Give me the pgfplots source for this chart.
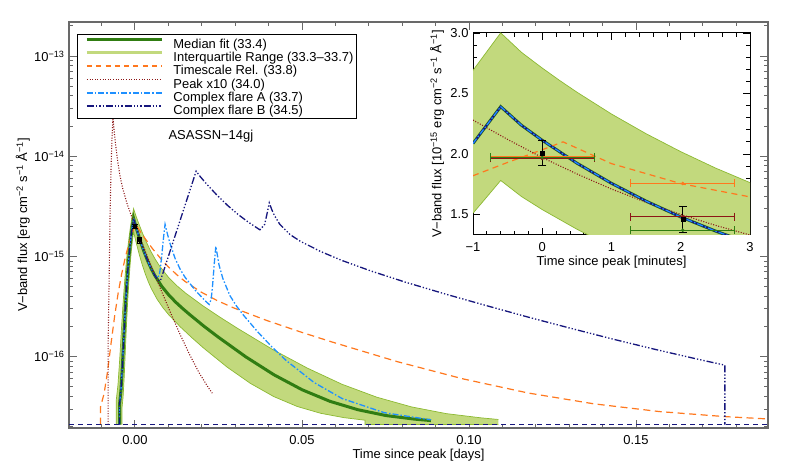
\documentclass[border=0pt]{standalone}
\usepackage{fontspec}
\setmainfont{Liberation Sans}
\usepackage{pgfplots}
\pgfplotsset{compat=1.18}
\usepgfplotslibrary{fillbetween}
\definecolor{medgreen}{RGB}{48,125,18}
\definecolor{bandfill}{RGB}{194,217,125}
\definecolor{bandedge}{RGB}{140,185,50}
\definecolor{orng}{RGB}{255,120,30}
\definecolor{dred}{RGB}{140,22,22}
\definecolor{lblue}{RGB}{30,144,255}
\definecolor{navyb}{RGB}{22,22,125}
\definecolor{framegray}{RGB}{105,105,105}
\begin{document}
\fontsize{13}{13}\selectfont
\begin{tikzpicture}
\begin{axis}[
  scale only axis, width=699bp, height=406bp,
  xmin=-0.01976, xmax=0.18952,
  ymode=log, ymin=1.94e-17, ymax=2.19e-13,
  xtick={0,0.05,0.1,0.15}, xticklabels={0.00,0.05,0.10,0.15},
  minor xtick={-0.01,0.01,0.02,0.03,0.04,0.06,0.07,0.08,0.09,0.11,0.12,0.13,0.14,0.16,0.17,0.18},
  ytick={1e-16,1e-15,1e-14,1e-13},
  yticklabels={10\textsuperscript{−16},10\textsuperscript{−15},10\textsuperscript{−14},10\textsuperscript{−13}},
  minor ytick={2e-17,3e-17,4e-17,5e-17,6e-17,7e-17,8e-17,9e-17,2e-16,3e-16,4e-16,5e-16,6e-16,7e-16,8e-16,9e-16,2e-15,3e-15,4e-15,5e-15,6e-15,7e-15,8e-15,9e-15,2e-14,3e-14,4e-14,5e-14,6e-14,7e-14,8e-14,9e-14,2e-13},
  tick align=inside, tick pos=both,
  major tick length=8bp, minor tick length=4.5bp,
  tick style={framegray, line width=1bp},
  axis line style={framegray, line width=1.3bp},
  xticklabel style={yshift=-3bp},
  xlabel={Time since peak [days]},
  ylabel={V−band flux [erg cm\textsuperscript{−2} s\textsuperscript{−1} Å\textsuperscript{−1}]},
  xlabel style={at={(axis description cs:0.5,-0.0665)}, anchor=center},
  ylabel style={at={(axis description cs:-0.066,0.5)}, anchor=center},
  legend style={at={(axis description cs:0.01144,0.9704)}, anchor=north west,
    draw=black, line width=0.9bp, fill=white, inner xsep=2bp, inner ysep=2bp,
    column sep=9bp, row sep=0bp,
    nodes={inner xsep=1bp, inner ysep=0.5bp, text height=11.3bp, text depth=1bp},
    cells={anchor=west}},
  legend image code/.code={\path (0bp,0bp); \draw[#1] (6bp,3.5bp) -- (81bp,3.5bp);},
]
% interquartile band
\addplot[name path=up, bandedge, line width=0.7bp, forget plot] coordinates {
(-0.00562,0.021e-15) (-0.00562,0.0365e-15) (-0.0051,0.0523e-15) (-0.00458,0.0937e-15)
(-0.00406,0.1876e-15) (-0.00354,0.354e-15) (-0.00302,0.606e-15) (-0.0025,0.946e-15)
(-0.00198,1.372e-15) (-0.00146,1.872e-15) (-0.00094,2.424e-15) (-0.00042,3.00e-15)
(0.0001,2.649e-15) (0.00088,2.240e-15) (0.00218,1.729e-15) (0.00348,1.372e-15)
(0.00478,1.119e-15) (0.00608,0.936e-15) (0.00738,0.802e-15) (0.00998,0.622e-15)
(0.01258,0.509e-15) (0.01518,0.430e-15) (0.02038,0.321e-15) (0.02558,0.246e-15)
(0.03078,0.191e-15) (0.04118,0.118e-15) (0.05158,0.0769e-15) (0.06198,0.0530e-15)
(0.07238,0.0394e-15) (0.08278,0.0315e-15) (0.09318,0.0270e-15) (0.10358,0.0245e-15)
(0.10878,0.0236e-15)};
\addplot[name path=lo, bandedge, line width=0.7bp, forget plot] coordinates {
(-0.00392,0.021e-15) (-0.00392,0.0302e-15) (-0.00357,0.0395e-15) (-0.00322,0.0639e-15)
(-0.00287,0.1194e-15) (-0.00252,0.2176e-15) (-0.00217,0.3663e-15) (-0.00182,0.5675e-15)
(-0.00147,0.8192e-15) (-0.00112,1.114e-15) (-0.00077,1.440e-15) (-0.00042,1.781e-15)
(-0.00007,1.573e-15) (0.00046,1.331e-15) (0.00133,1.030e-15) (0.00221,0.819e-15)
(0.00308,0.670e-15) (0.00396,0.562e-15) (0.00483,0.482e-15) (0.00658,0.376e-15)
(0.00833,0.309e-15) (0.01008,0.262e-15) (0.01358,0.198e-15) (0.01708,0.154e-15)
(0.02058,0.1215e-15) (0.02758,0.0786e-15) (0.03458,0.0540e-15) (0.04158,0.0399e-15)
(0.04858,0.0318e-15) (0.05558,0.0272e-15) (0.06258,0.0246e-15) (0.06888,0.0232e-15)
(0.06888,0.021e-15) (0.10878,0.021e-15)};
\addplot[fill=bandfill, draw=none, forget plot] fill between[of=up and lo];
% median fit
\addplot[medgreen, line width=3bp, forget plot] coordinates {
(-0.00462,0.021e-15) (-0.00462,0.0335e-15) (-0.0042,0.0462e-15) (-0.00378,0.0796e-15)
(-0.00336,0.155e-15) (-0.00294,0.289e-15) (-0.00252,0.492e-15) (-0.0021,0.766e-15)
(-0.00168,1.109e-15) (-0.00126,1.511e-15) (-0.00084,1.956e-15) (-0.00042,2.40e-15)
(0.0,2.137e-15) (0.00063,1.808e-15) (0.00168,1.397e-15) (0.00273,1.109e-15)
(0.00378,0.905e-15) (0.00483,0.758e-15) (0.00588,0.650e-15) (0.00798,0.505e-15)
(0.01008,0.414e-15) (0.01218,0.350e-15) (0.01428,0.302e-15) (0.01638,0.263e-15)
(0.02058,0.202e-15) (0.02478,0.158e-15) (0.03318,0.0995e-15) (0.04158,0.066e-15)
(0.04998,0.0468e-15) (0.05838,0.0358e-15) (0.06678,0.0295e-15) (0.07518,0.0258e-15)
(0.08358,0.0238e-15) (0.0886,0.0230e-15)};
% timescale relation
\addplot[orng, line width=1.2bp, dash pattern=on 7bp off 4.5bp, forget plot] coordinates {
(-0.0103,0.021e-15) (-0.0103,0.0318e-15) (-0.00925,0.0428e-15) (-0.0082,0.0718e-15)
(-0.00715,0.1373e-15) (-0.0061,0.2533e-15) (-0.00505,0.429e-15) (-0.004,0.667e-15)
(-0.00295,0.964e-15) (-0.0019,1.313e-15) (-0.00085,1.698e-15) (0.0002,2.101e-15)
(0.00118,1.855e-15) (0.00265,1.570e-15) (0.0051,1.213e-15) (0.00755,0.964e-15)
(0.01,0.787e-15) (0.01245,0.660e-15) (0.0149,0.566e-15) (0.0198,0.441e-15)
(0.0247,0.3615e-15) (0.0296,0.306e-15) (0.0394,0.230e-15) (0.0492,0.178e-15)
(0.059,0.140e-15) (0.0786,0.089e-15) (0.0982,0.060e-15) (0.1178,0.0433e-15)
(0.1374,0.0338e-15) (0.157,0.0283e-15) (0.1766,0.0252e-15) (0.1903,0.0238e-15)};
% peak x10
\addplot[dred, line width=1.1bp, dash pattern=on 1bp off 1.6bp, forget plot] coordinates {
(-0.00803,0.021e-15) (-0.00803,0.146e-15) (-0.00774,0.607e-15) (-0.00746,2.70e-15)
(-0.00717,7.47e-15) (-0.00689,14.92e-15) (-0.00674,19.37e-15) (-0.0066,24.0e-15)
(-0.00624,17.89e-15) (-0.00589,13.78e-15) (-0.00517,8.86e-15) (-0.00446,6.31e-15)
(-0.00374,4.86e-15) (-0.00231,3.31e-15) (-0.00088,2.44e-15) (0.00055,1.835e-15)
(0.00198,1.391e-15) (0.00484,0.806e-15) (0.0077,0.471e-15) (0.01056,0.279e-15)
(0.01342,0.169e-15) (0.01628,0.106e-15) (0.01914,0.0695e-15) (0.022,0.0488e-15)
(0.02314,0.0432e-15)};
% complex flare A
\addplot[lblue, line width=1.3bp, dash pattern=on 6bp off 2bp on 1.5bp off 2bp, forget plot] coordinates {
(-0.00462,0.021e-15) (-0.00462,0.0335e-15) (-0.0042,0.0462e-15) (-0.00378,0.0796e-15)
(-0.00336,0.155e-15) (-0.00294,0.289e-15) (-0.00252,0.492e-15) (-0.0021,0.766e-15)
(-0.00168,1.109e-15) (-0.00126,1.511e-15) (-0.00084,1.956e-15) (-0.00042,2.40e-15)
(0.0,2.137e-15) (0.00063,1.808e-15) (0.00168,1.397e-15) (0.00273,1.109e-15)
(0.00378,0.905e-15) (0.00483,0.758e-15) (0.00588,0.650e-15)
(0.0065,0.61e-15) (0.00725,0.644e-15) (0.0075,0.727e-15) (0.00775,0.85e-15)
(0.008,1.011e-15) (0.0085,1.49e-15) (0.0088,1.84e-15) (0.009,2.09e-15)
(0.00975,1.655e-15) (0.0105,1.346e-15) (0.012,0.956e-15) (0.0135,0.748e-15)
(0.015,0.619e-15) (0.018,0.461e-15) (0.021,0.361e-15) (0.0222,0.332e-15)
(0.0228,0.373e-15) (0.0232,0.50e-15) (0.0236,0.74e-15) (0.0238,0.90e-15)
(0.0242,1.26e-15) (0.02473,0.999e-15) (0.02515,0.824e-15) (0.0263,0.603e-15)
(0.0284,0.4075e-15) (0.0305,0.316e-15) (0.0326,0.2565e-15) (0.0368,0.1758e-15)
(0.041,0.125e-15) (0.0452,0.0919e-15) (0.0536,0.0552e-15) (0.062,0.0382e-15)
(0.0746,0.0276e-15) (0.0886,0.0234e-15)};
% complex flare B
\addplot[navyb, line width=1.3bp, dash pattern=on 7bp off 2bp on 1.3bp off 2bp on 1.3bp off 2bp on 1.3bp off 2bp, forget plot] coordinates {
(-0.00462,0.021e-15) (-0.00462,0.0335e-15) (-0.0042,0.0462e-15) (-0.00378,0.0796e-15)
(-0.00336,0.155e-15) (-0.00294,0.289e-15) (-0.00252,0.492e-15) (-0.0021,0.766e-15)
(-0.00168,1.109e-15) (-0.00126,1.511e-15) (-0.00084,1.956e-15) (-0.00042,2.40e-15)
(0.0,2.137e-15) (0.00063,1.808e-15) (0.00168,1.397e-15) (0.00273,1.109e-15)
(0.00378,0.905e-15) (0.00483,0.758e-15) (0.00588,0.650e-15)
(0.0068,0.585e-15) (0.0076,0.57e-15) (0.008,0.627e-15) (0.0085,0.705e-15)
(0.01,1.003e-15) (0.0115,1.43e-15) (0.013,2.03e-15) (0.0145,2.90e-15)
(0.016,4.12e-15) (0.0172,5.47e-15) (0.0183,7.1e-15) (0.01955,6.26e-15)
(0.02143,5.29e-15) (0.02455,4.09e-15) (0.02768,3.24e-15) (0.0308,2.637e-15)
(0.03393,2.20e-15) (0.03705,1.877e-15) (0.0374,1.846e-15) (0.0388,2.085e-15)
(0.0395,2.64e-15) (0.0402,3.43e-15) (0.04098,2.918e-15) (0.04175,2.563e-15)
(0.0433,2.107e-15) (0.0464,1.655e-15) (0.0495,1.418e-15) (0.0557,1.116e-15)
(0.0619,0.914e-15) (0.0706,0.717e-15) (0.0808,0.556e-15) (0.0933,0.418e-15)
(0.1058,0.319e-15) (0.1183,0.245e-15) (0.1308,0.1905e-15) (0.1433,0.149e-15)
(0.1558,0.118e-15) (0.1683,0.0946e-15) (0.1766,0.0822e-15) (0.1766,0.021e-15)};
% quiescent level
\addplot[navyb, line width=1bp, dash pattern=on 5bp off 4bp, forget plot] coordinates {
(-0.01976,2.1e-17) (0.18952,2.1e-17)};
% observed points
\addplot[black, only marks, mark=*, mark size=2.2bp, forget plot,
  error bars/.cd, x dir=both, x explicit, y dir=both, y explicit,
  error bar style={line width=1bp}, error mark options={rotate=90, mark size=2.5bp, line width=1bp}] coordinates {
(0.0,2.0e-15) +- (0.00052,0.105e-15)
(0.00141,1.458e-15) +- (0.00052,0.104e-15)};
\node at (axis description cs:0.203,0.719) {ASASSN−14gj};
% legend
\addlegendimage{medgreen, line width=2.5bp}
\addlegendentry{Median fit (33.4)}
\addlegendimage{bandfill, line width=3bp}
\addlegendentry{Interquartile Range (33.3–33.7)}
\addlegendimage{orng, line width=1.6bp, dash pattern=on 5bp off 4.3bp}
\addlegendentry{Timescale Rel. (33.8)}
\addlegendimage{dred, line width=1.2bp, dash pattern=on 1bp off 1.6bp}
\addlegendentry{Peak x10 (34.0)}
\addlegendimage{lblue, line width=1.5bp, dash pattern=on 6bp off 2bp on 1.5bp off 2bp}
\addlegendentry{Complex flare A (33.7)}
\addlegendimage{navyb, line width=1.5bp, dash pattern=on 7bp off 2bp on 1.3bp off 2bp on 1.3bp off 2bp on 1.3bp off 2bp}
\addlegendentry{Complex flare B (34.5)}
\end{axis}
% inset
\begin{axis}[
  at={(404bp,193bp)}, anchor=south west,
  scale only axis, width=277bp, height=202bp,
  xmin=-1, xmax=3, ymin=1.33, ymax=3.0,
  xtick={-1,0,1,2,3}, xticklabels={−1,0,1,2,3},
  ytick={1.5,2,2.5,3}, yticklabels={1.5,2.0,2.5,3.0},
  minor x tick num=4, minor y tick num=4,
  tick align=inside, tick pos=both,
  major tick length=7bp, minor tick length=4bp,
  tick style={black, line width=0.8bp},
  axis line style={black, line width=1bp},
  axis background/.style={fill=white},
  xticklabel style={yshift=-3bp},
  xlabel={Time since peak [minutes]},
  ylabel={V−band flux [10\textsuperscript{−15} erg cm\textsuperscript{−2} s\textsuperscript{−1} Å\textsuperscript{−1}]},
  xlabel style={at={(axis description cs:0.5,-0.134)}, anchor=center},
  ylabel style={at={(axis description cs:-0.130,0.5)}, anchor=center},
]
\addplot[name path=iup, bandedge, line width=0.7bp] coordinates {
(-1,2.691) (-0.8,2.846) (-0.6,3.001) (-0.3,2.840) (0,2.710) (0.25,2.608) (0.5,2.511)
(1,2.330) (1.5,2.167) (2,2.019) (2.5,1.884) (3,1.763)};
\addplot[name path=ilo, bandedge, line width=0.7bp] coordinates {
(-1,1.510) (-0.8,1.645) (-0.6,1.781) (-0.3,1.648) (0,1.540) (0.5,1.378) (0.7,1.320)
(1,1.239) (2,1.014) (3,0.845)};
\addplot[fill=bandfill, draw=none] fill between[of=iup and ilo];
\addplot[medgreen, line width=3bp] coordinates {
(-1,2.087) (-0.8,2.239) (-0.6,2.391) (-0.3,2.237) (0,2.113) (0.5,1.924) (1,1.757)
(1.5,1.610) (2,1.479) (2.5,1.363) (3,1.260)};
\addplot[orng, line width=1.2bp, dash pattern=on 6bp off 4.5bp] coordinates {
(-1,1.82) (-0.5,1.93) (0,2.035) (0.3,2.10) (1,1.92) (2,1.755) (3,1.645)};
\addplot[dred, line width=1.1bp, dash pattern=on 1bp off 1.6bp] coordinates {
(-1,2.28) (-0.5,2.12) (0,1.97) (0.5,1.835) (1,1.71) (1.5,1.60) (2,1.50) (2.5,1.41) (3,1.33)};
\addplot[navyb, line width=2bp] coordinates {
(-1,2.087) (-0.8,2.239) (-0.6,2.391) (-0.3,2.237) (0,2.113) (0.5,1.924) (1,1.757)
(1.5,1.610) (2,1.479) (2.5,1.363) (3,1.260)};
\addplot[lblue, line width=1.2bp, dash pattern=on 6bp off 2bp on 1.5bp off 2bp] coordinates {
(-1,2.087) (-0.8,2.239) (-0.6,2.391) (-0.3,2.237) (0,2.113) (0.5,1.924) (1,1.757)
(1.5,1.610) (2,1.479) (2.5,1.363) (3,1.260)};
% model-averaged points
\addplot[orng, only marks, mark=*, mark size=1.6bp,
  error bars/.cd, x dir=both, x explicit, error bar style={line width=1bp},
  error mark options={rotate=90, mark size=4bp, line width=1bp}] coordinates {
(0,1.976) +- (0.75,0) (2.03,1.756) +- (0.75,0)};
\addplot[dred, only marks, mark=*, mark size=1.6bp,
  error bars/.cd, x dir=both, x explicit, error bar style={line width=1bp},
  error mark options={rotate=90, mark size=4bp, line width=1bp}] coordinates {
(0,1.963) +- (0.75,0) (2.03,1.481) +- (0.75,0)};
\addplot[medgreen, only marks, mark=*, mark size=1.6bp,
  error bars/.cd, x dir=both, x explicit, error bar style={line width=1bp},
  error mark options={rotate=90, mark size=4bp, line width=1bp}] coordinates {
(0,1.971) +- (0.75,0) (2.03,1.369) +- (0.75,0)};
% observed points
\addplot[black, only marks, mark=square*, mark size=2bp,
  error bars/.cd, y dir=both, y explicit, error bar style={line width=1bp},
  error mark options={rotate=90, mark size=4bp, line width=1bp}] coordinates {
(0,2.006) +- (0,0.105) (2.03,1.458) +- (0,0.104)};
\end{axis}
\pgfresetboundingbox
\path[use as bounding box] (-69bp,-45bp) rectangle (720bp,428bp);
\end{tikzpicture}
\end{document}
